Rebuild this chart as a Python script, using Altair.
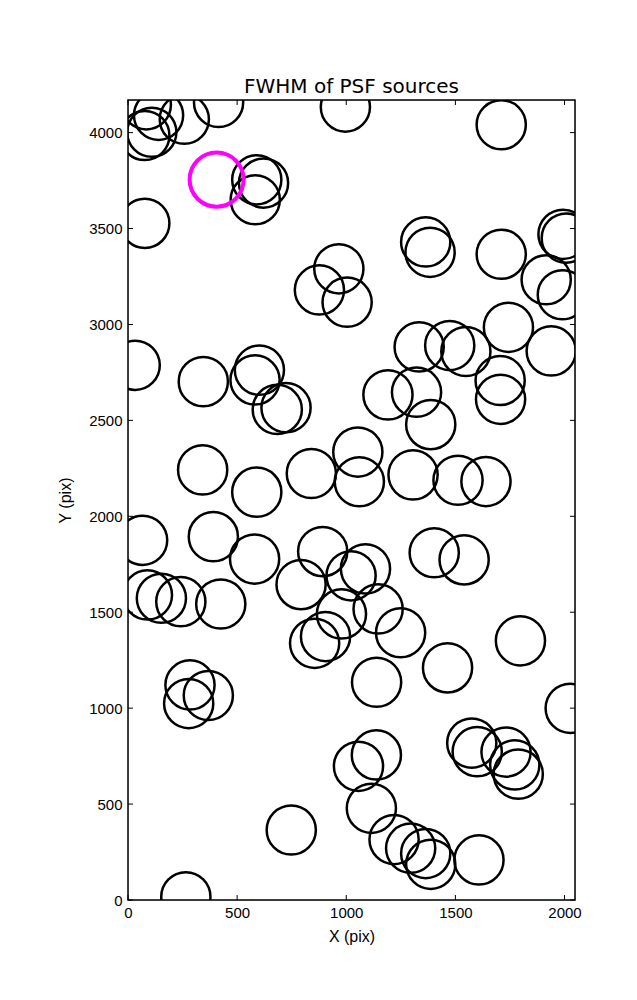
import altair as alt
import pandas as pd

# source positions (pix)
src_x = [84, 140, 109, 77, 258, 415, 996, 1710,
         590, 621, 583, 77, 966, 877, 1004,
         1364, 1384, 1710, 1993, 2008, 1916, 1990,
         1743, 1939, 1334, 1474, 1548,
         33, 345, 602, 582, 684, 724,
         1191, 1322, 1387, 1705, 1707,
         342, 590, 840, 1053, 1060, 1306, 1512, 1640,
         67, 391, 580, 892, 1088, 1022, 1403, 1540,
         793, 89, 153, 242, 425,
         978, 1146, 1249, 855, 905,
         1139, 1464, 1798, 284, 368, 278, 2026,
         1575, 1600, 1732, 1772, 1788, 1056, 1138,
         748, 1115, 1219, 1295, 1364, 1387, 1608, 265]
src_y = [4145, 4090, 4002, 3985, 4070, 4157, 4133, 4041,
         3754, 3737, 3650, 3527, 3290, 3180, 3116,
         3430, 3376, 3366, 3470, 3450, 3233, 3155,
         2985, 2862, 2883, 2890, 2859,
         2787, 2702, 2762, 2711, 2557, 2566,
         2633, 2647, 2478, 2708, 2610,
         2242, 2126, 2223, 2335, 2180, 2216, 2188, 2181,
         1875, 1894, 1777, 1816, 1726, 1690, 1810, 1773,
         1644, 1590, 1573, 1555, 1543,
         1491, 1517, 1393, 1338, 1373,
         1135, 1210, 1351, 1121, 1066, 1024, 999,
         818, 773, 771, 704, 656, 697, 756,
         365, 478, 315, 270, 242, 186, 209, 17]

# highlighted source
hl_x = [406]
hl_y = [3755]

x_ticks = [0, 500, 1000, 1500, 2000]
y_ticks = [0, 500, 1000, 1500, 2000, 2500, 3000, 3500, 4000]

X_MAX = 2048
Y_MAX = 4170
W = 447
H = 800

src = pd.DataFrame({"x": src_x, "y": src_y})
hl = pd.DataFrame({"x": hl_x, "y": hl_y})
xt = pd.DataFrame({"v": x_ticks})
yt = pd.DataFrame({"v": y_ticks})

FONT = "DejaVu Sans"
xscale = alt.Scale(domain=[0, X_MAX], nice=False, zero=False)
yscale = alt.Scale(domain=[0, Y_MAX], nice=False, zero=False)

xaxis = alt.Axis(values=x_ticks, format="d", ticks=False, domain=False, grid=False,
                 labelFontSize=15, labelColor="black", labelPadding=5,
                 title="X (pix)", titleFontSize=16, titleFontWeight="normal",
                 titleColor="black", titlePadding=8, labelFlush=False)
yaxis = alt.Axis(values=y_ticks, format="d", ticks=False, domain=False, grid=False,
                 labelFontSize=15, labelColor="black", labelPadding=6,
                 title="Y (pix)", titleFontSize=16, titleFontWeight="normal",
                 titleColor="black", titlePadding=15, labelFlush=False)

circles = alt.Chart(src).mark_point(
    shape="circle", filled=False, size=2420, strokeWidth=2.5,
    color="black", opacity=1, clip=True
).encode(
    x=alt.X("x:Q", scale=xscale, axis=xaxis),
    y=alt.Y("y:Q", scale=yscale, axis=yaxis),
)

magenta = alt.Chart(hl).mark_point(
    shape="circle", filled=False, size=2920, strokeWidth=4,
    color="#ff00ff", opacity=1, clip=True
).encode(
    x=alt.X("x:Q", scale=xscale),
    y=alt.Y("y:Q", scale=yscale),
)

tick_len = 5
bx = alt.Chart(xt).mark_rule(color="black", strokeWidth=1).encode(
    x=alt.X("v:Q", scale=xscale), y=alt.value(H), y2=alt.value(H - tick_len))
tx = alt.Chart(xt).mark_rule(color="black", strokeWidth=1).encode(
    x=alt.X("v:Q", scale=xscale), y=alt.value(0), y2=alt.value(tick_len))
ly = alt.Chart(yt).mark_rule(color="black", strokeWidth=1).encode(
    y=alt.Y("v:Q", scale=yscale), x=alt.value(0), x2=alt.value(tick_len))
ry = alt.Chart(yt).mark_rule(color="black", strokeWidth=1).encode(
    y=alt.Y("v:Q", scale=yscale), x=alt.value(W), x2=alt.value(W - tick_len))

frame = alt.Chart(pd.DataFrame({"k": [0]})).mark_rect(
    filled=False, stroke="black", strokeWidth=1.5, fillOpacity=0
).encode(x=alt.value(0), x2=alt.value(W), y=alt.value(0), y2=alt.value(H))

chart = alt.layer(circles, magenta, bx, tx, ly, ry, frame).properties(
    width=W, height=H,
    title=alt.TitleParams("FWHM of PSF sources", fontSize=20, fontWeight="normal",
                          font=FONT, color="black", offset=2),
    autosize=alt.AutoSizeParams(type="none"),
    padding={"left": 120, "top": 92, "right": 50, "bottom": 80},
).configure_view(
    stroke=None
).configure_axis(
    labelFont=FONT, titleFont=FONT
).configure(background="white")

chart.save("out.html", embed_options={"renderer": "svg", "actions": False})
